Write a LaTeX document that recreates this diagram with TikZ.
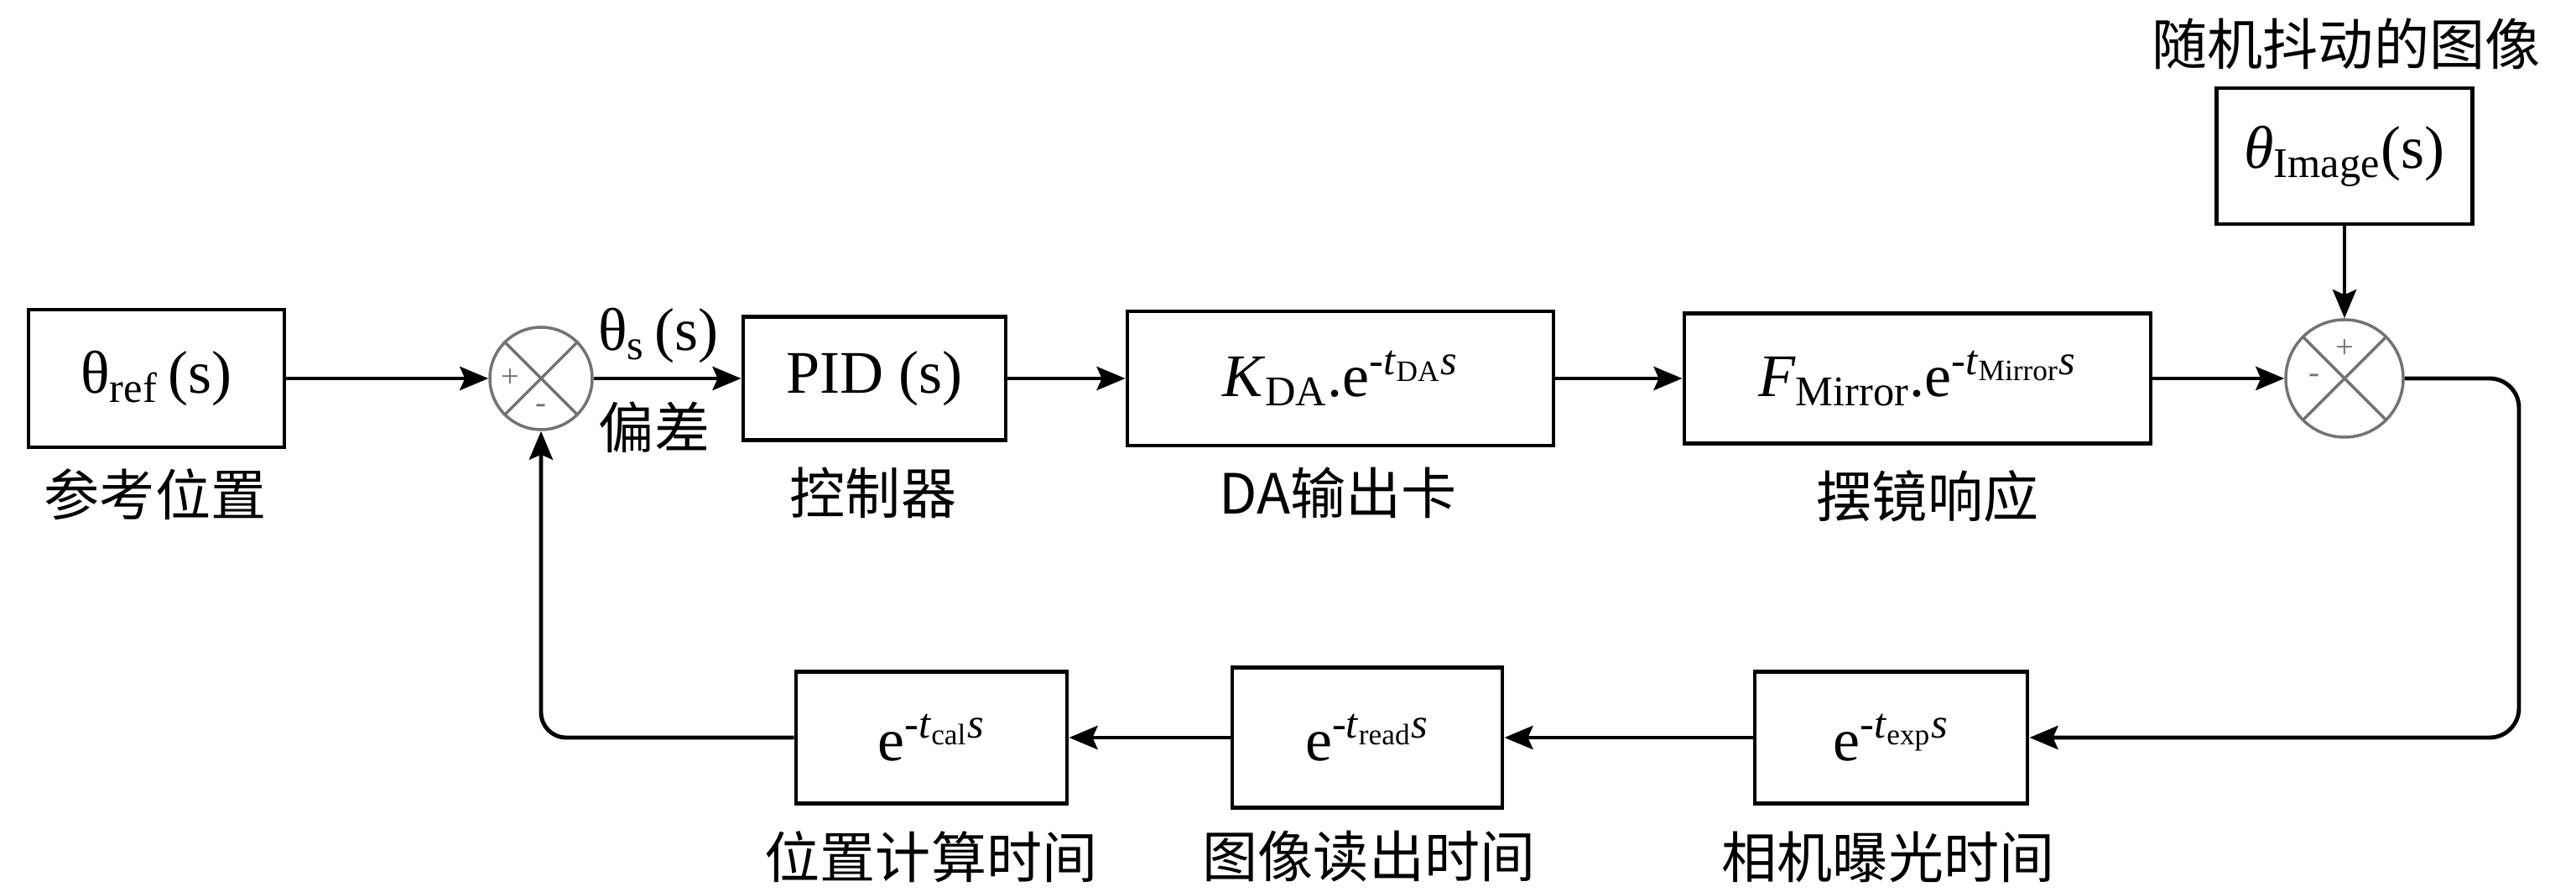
\documentclass[tikz,border=0pt]{standalone}
\usepackage{fontspec}
\setmainfont{Liberation Serif}
\newfontfamily\cjk{Noto Sans CJK SC}
\usetikzlibrary{arrows.meta}
\tikzset{
  blk/.style={draw, line width=1.4pt, minimum height=1.6cm, inner sep=0pt, font=\fontsize{20.5}{24}\selectfont},
  txt/.style={inner sep=0pt, font=\fontsize{20.5}{24}\selectfont},
  lbl/.style={inner sep=0pt, font=\cjk\fontsize{18.8}{22}\selectfont},
  sumnode/.style={circle, draw=black!55, line width=1pt, minimum size=1.22cm, inner sep=0pt},
  sgn/.style={inner sep=0pt, text=black!55, font=\fontsize{11}{12}\selectfont},
  arr/.style={line width=1.4pt, -{Stealth[length=0.34cm,width=0.28cm,inset=0.06cm]}},
}

\begin{document}
\begin{tikzpicture}%
\useasboundingbox (0,0) rectangle (30.71,10.63);%
% forward path
\node[blk, minimum width=3.05cm, minimum height=1.64cm] (ref) at (1.865,6.12) {θ\textsubscript{ref}\,(s)};%
\node[sumnode] (s1) at (6.45,6.12) {};%
\node[blk, minimum width=3.13cm, minimum height=1.47cm] (pid) at (10.425,6.12) {PID (s)};%
\node[blk, minimum width=5.08cm] (da) at (15.98,6.12) {\textit{K}\textsubscript{DA}.e\textsuperscript{-\textit{t}\textsubscript{DA}\textit{s}}};%
\node[blk, minimum width=5.56cm, minimum height=1.55cm] (mir) at (22.86,6.12) {\textit{F}\textsubscript{Mirror}.e\textsuperscript{-\textit{t}\textsubscript{Mirror}\textit{s}}};%
\node[sumnode, minimum size=1.4cm] (s2) at (27.95,6.12) {};%
\node[blk, minimum width=3.05cm, minimum height=1.62cm] (img) at (27.95,8.77) {\textit{θ}\textsubscript{Image}(s)};%
% feedback path
\node[blk, minimum width=3.25cm, minimum height=1.57cm] (exp) at (22.545,1.84) {e\textsuperscript{-\textit{t}\textsubscript{exp}\textit{s}}};%
\node[blk, minimum width=3.22cm, minimum height=1.67cm] (read) at (16.30,1.84) {e\textsuperscript{-\textit{t}\textsubscript{read}\textit{s}}};%
\node[blk, minimum width=3.23cm, minimum height=1.57cm] (cal) at (11.105,1.84) {e\textsuperscript{-\textit{t}\textsubscript{cal}\textit{s}}};%
\coordinate (rc) at (30.03,1.84);%
% summing junctions
\draw[draw=black!55, line width=1pt] (s1.north west) -- (s1.south east) (s1.north east) -- (s1.south west);%
\draw[draw=black!55, line width=1pt] (s2.north west) -- (s2.south east) (s2.north east) -- (s2.south west);%
\node[sgn] (s1p) at (6.08,6.12) {+};%
\node[sgn] (s1m) at (6.45,5.76) {-};%
\node[sgn] (s2p) at (27.95,6.47) {+};%
\node[sgn] (s2m) at (27.59,6.12) {-};%
% labels
\node[lbl] (refl) at (1.85,4.74) {参考位置};%
\node[txt] (errs) at (7.85,6.63) {θ\textsubscript{s}\,(s)};%
\node[lbl] (errl) at (7.80,5.54) {偏差};%
\node[lbl] (pidl) at (10.41,4.76) {控制器};%
\node[lbl] (dal) at (15.95,4.76) {DA输出卡};%
\node[lbl] (mirl) at (22.98,4.72) {摆镜响应};%
\node[lbl] (imgl) at (27.97,10.11) {随机抖动的图像};%
\node[lbl] (expl) at (22.51,0.42) {相机曝光时间};%
\node[lbl] (readl) at (16.32,0.42) {图像读出时间};%
\node[lbl] (call) at (11.10,0.42) {位置计算时间};%
% connectors
\draw[arr] (ref) -- (s1);%
\draw[arr] (s1) -- (pid);%
\draw[arr] (pid) -- (da);%
\draw[arr] (da) -- (mir);%
\draw[arr] (mir) -- (s2);%
\draw[arr] (img) -- (s2);%
\draw[arr, rounded corners=0.35cm] (s2) -| (rc) -- (exp);%
\draw[arr] (exp) -- (read);%
\draw[arr] (read) -- (cal);%
\draw[arr, rounded corners=0.3cm] (cal) -| (s1);%
\end{tikzpicture}
\end{document}
